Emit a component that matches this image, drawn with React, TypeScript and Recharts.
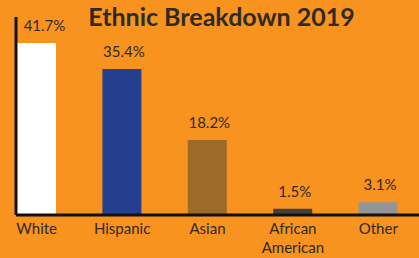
import { BarChart, Bar, XAxis, YAxis, Cell, LabelList, Text } from 'recharts'

const categories = ['White', 'Hispanic', 'Asian', 'African American', 'Other']
const shares = [41.7, 35.4, 18.2, 1.5, 3.1]
const barColors = ['#ffffff', '#243f8e', '#9e6a2a', '#404040', '#939598']

const data = categories.map((name, i) => ({ name, share: shares[i] }))

const ink = '#2e2a26'
const font = 'Lato, "Noto Sans", sans-serif'

const CategoryTick = ({ x, y, payload }: any) => (
    <Text
        x={x}
        y={y}
        width={80}
        textAnchor="middle"
        verticalAnchor="start"
        fill={ink}
        fontSize={15}
        fontFamily={font}
        lineHeight={19}
    >
        {payload.value}
    </Text>
)

// value above each bar; the first one is nudged clear of the y axis
const ValueLabel = ({ x, y, width, value, index }: any) => (
    <text
        x={x + width / 2 + (index === 0 ? 8 : 2)}
        y={y - 12}
        textAnchor="middle"
        fill={ink}
        fontSize={15}
        fontFamily={font}
    >
        {`${value}%`}
    </text>
)

export default function App() {
    return (
        <div style={{ position: 'fixed', left: 0, top: 0, width: 419, height: 258, background: '#f7931e' }}>
            <div style={{
                position: 'absolute',
                left: 0,
                width: 443,
                top: 1,
                textAlign: 'center',
                fontFamily: font,
                fontWeight: 700,
                fontSize: 25,
                color: ink,
            }}>
                Ethnic Breakdown 2019
            </div>
            <BarChart
                width={419}
                height={258}
                data={data}
                margin={{ top: 17, right: 0, bottom: 13, left: 0 }}
                barSize={39}
            >
                <YAxis
                    width={16}
                    domain={[0, 48]}
                    tick={false}
                    tickLine={false}
                    axisLine={{ stroke: '#111', strokeWidth: 3 }}
                />
                <XAxis
                    dataKey="name"
                    height={30}
                    interval={0}
                    padding={{ left: -22, right: -2 }}
                    tickLine={false}
                    axisLine={{ stroke: '#111', strokeWidth: 3 }}
                    tick={<CategoryTick />}
                />
                <Bar dataKey="share" isAnimationActive={false}>
                    {data.map((d, i) => (
                        <Cell key={d.name} fill={barColors[i]} />
                    ))}
                    <LabelList dataKey="share" content={<ValueLabel />} />
                </Bar>
            </BarChart>
        </div>
    )
}
